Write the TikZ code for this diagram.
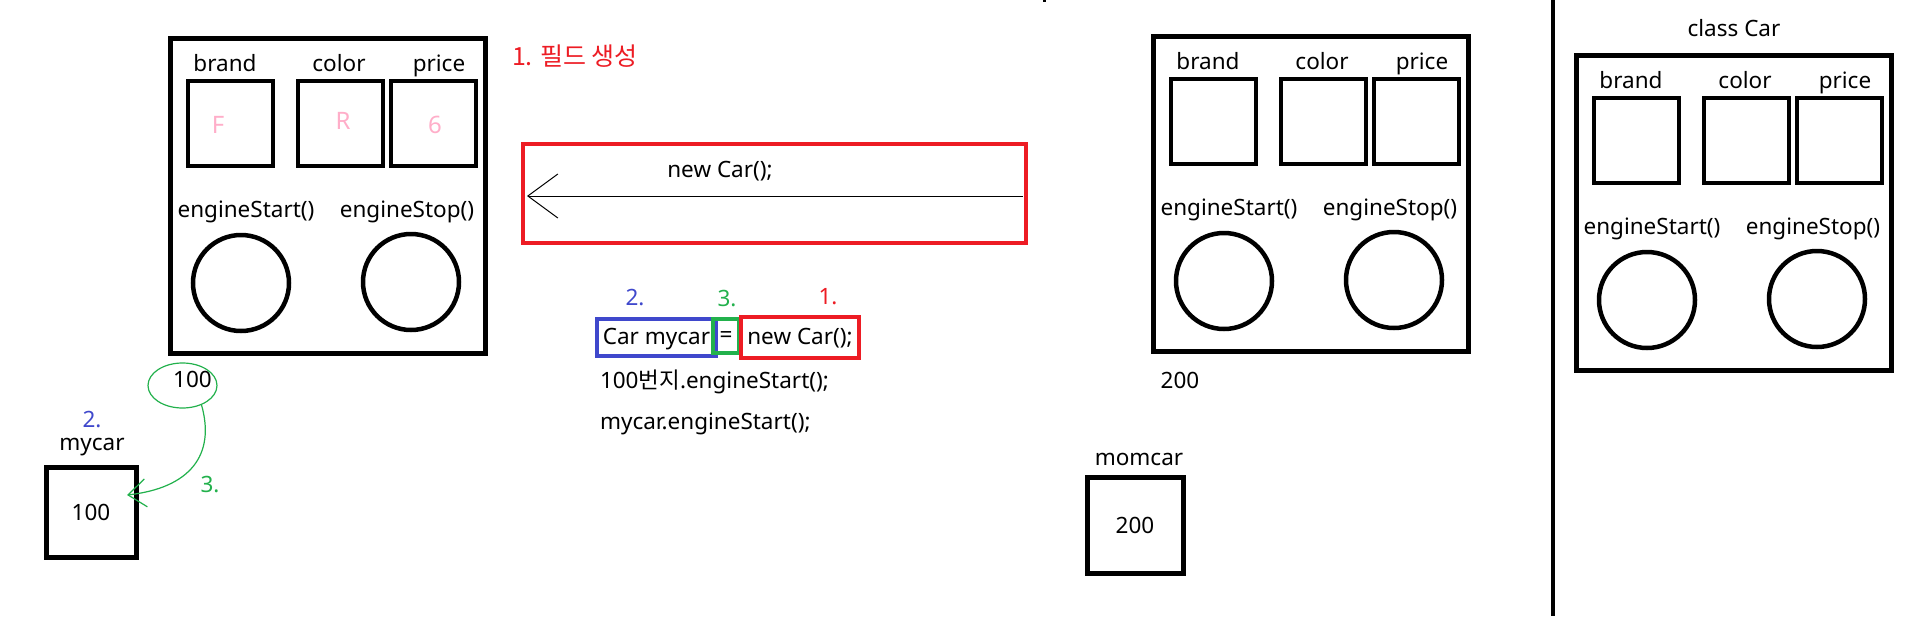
\documentclass[tikz,border=0pt]{standalone}
\usepackage{fontspec}
\setmainfont{Noto Sans}
\newfontfamily\kr{Noto Sans CJK KR}
\usetikzlibrary{arrows.meta,shapes.geometric}
\definecolor{pred}{RGB}{237,28,36}
\definecolor{pblue}{RGB}{63,72,204}
\definecolor{pgreen}{RGB}{34,177,76}
\definecolor{ppink}{RGB}{255,174,201}
\begin{document}
\begin{tikzpicture}[x=1pt,y=-1pt,
  every node/.style={font=\fontsize{22.5}{27}\selectfont,inner sep=0pt,outer sep=0pt},
  txt/.style={anchor=base},
  objbox/.style={draw,line width=5pt,minimum width=315pt,minimum height=315pt,anchor=north west},
  field/.style={draw,line width=4.3pt,minimum width=85pt,minimum height=85pt,anchor=north west},
  method/.style={draw,circle,line width=4.5pt,minimum size=96pt},
  varbox/.style={draw,line width=5pt,minimum width=92pt,minimum height=92pt},
  codebox/.style={draw,line width=4.3pt,minimum height=37pt,text height=16pt,text depth=3pt},
  pinkval/.style={txt,text=ppink,font=\fontsize{24}{28}\selectfont}]
\path[use as bounding box,fill=white] (0,0) rectangle (1920,616);

\foreach \obj/\ox/\oy in {a/170/38, b/1153/36, c/1576/55} {
  \node[objbox] (\obj) at (\ox,\oy) {};
  \node[field] (\obj-brand) at (\ox+18,\oy+43) {};
  \node[field] (\obj-color) at (\ox+128,\oy+43) {};
  \node[field] (\obj-price) at (\ox+221,\oy+43) {};
  \node[txt] (\obj-brandl) at (\ox+55,\oy+33) {brand};
  \node[txt] (\obj-colorl) at (\ox+169,\oy+33) {color};
  \node[txt] (\obj-pricel) at (\ox+269,\oy+33) {price};
  \node[txt] (\obj-startl) at (\ox+76,\oy+179) {engineStart()};
  \node[txt] (\obj-stopl) at (\ox+237,\oy+179) {engineStop()};
  \node[method] (\obj-start) at (\ox+71,\oy+245) {};
  \node[method] (\obj-stop) at (\ox+241,\oy+244) {};
}
\node[pinkval] (valf) at (218,133) {F};
\node[pinkval] (valr) at (343,129) {R};
\node[pinkval] (val6) at (435,133) {6};

\node[txt,text=pred,font=\fontsize{25}{30}\selectfont] (step1) at (575,65) {\kr 1. 필드 생성};
\node[draw=pred,line width=4.5pt,minimum width=503pt,minimum height=99pt] (newbox) at (774.5,193.5) {};
\node[txt] (newtxt) at (720,177) {new Car();};
\draw[line width=1pt,-{Straight Barb[length=30pt,width=44pt]},shorten <=3pt,shorten >=4pt]
  ([yshift=-2.5pt]newbox.east) -- ([yshift=-2.5pt]newbox.west);

\node[txt,text=pblue] (n2) at (635,305) {2.};
\node[txt,text=pgreen] (n3) at (727,306) {3.};
\node[txt,text=pred] (n1) at (828,304) {1.};
\node[codebox,draw=pblue,minimum width=119pt] (decl) at (656.5,337.5) {Car mycar};
\node[codebox,draw=pgreen,line width=4pt,minimum width=26pt,minimum height=34pt] (assign) at (726,336) {=};
\node[codebox,draw=pred,minimum width=118pt,minimum height=41pt] (create) at (800,337.5) {new Car();};
\node[txt,anchor=base west] (line2) at (600,388) {100{\kr 번지}.engineStart();};
\node[txt,anchor=base west] (line3) at (600,429) {mycar.engineStart();};

\node[txt] (addr1) at (192.5,387) {100};
\node[draw=pgreen,line width=1.2pt,ellipse,minimum width=69pt,minimum height=45pt] (addrloop) at (182.5,385.5) {};
\node[txt,text=pblue] (m2) at (92,427) {2.};
\node[txt] (mycarl) at (92,450) {mycar};
\node[varbox,minimum width=90pt,minimum height=90pt] (mycar) at (91,512) {100};
\node[txt,text=pgreen] (m3) at (210,492) {3.};
\draw[pgreen,line width=1.2pt,-{Straight Barb[length=18pt,width=28pt]}]
  (addrloop.-45) .. controls (216,455) and (190,488) .. ([shift={(-9,-17)}]mycar.east);

\node[txt] (addr2) at (1180,388) {200};
\node[txt] (momcarl) at (1139,465) {momcar};
\node[varbox,minimum width=96pt,minimum height=96pt] (momcar) at (1135,525) {200};

\draw[line width=4pt] (1553,0) -- (1553,616);
\draw[line width=2.5pt] (1043,0.5) -- (1046,0.5);
\node[txt] (classl) at (1734,36) {class Car};
\end{tikzpicture}
\end{document}
